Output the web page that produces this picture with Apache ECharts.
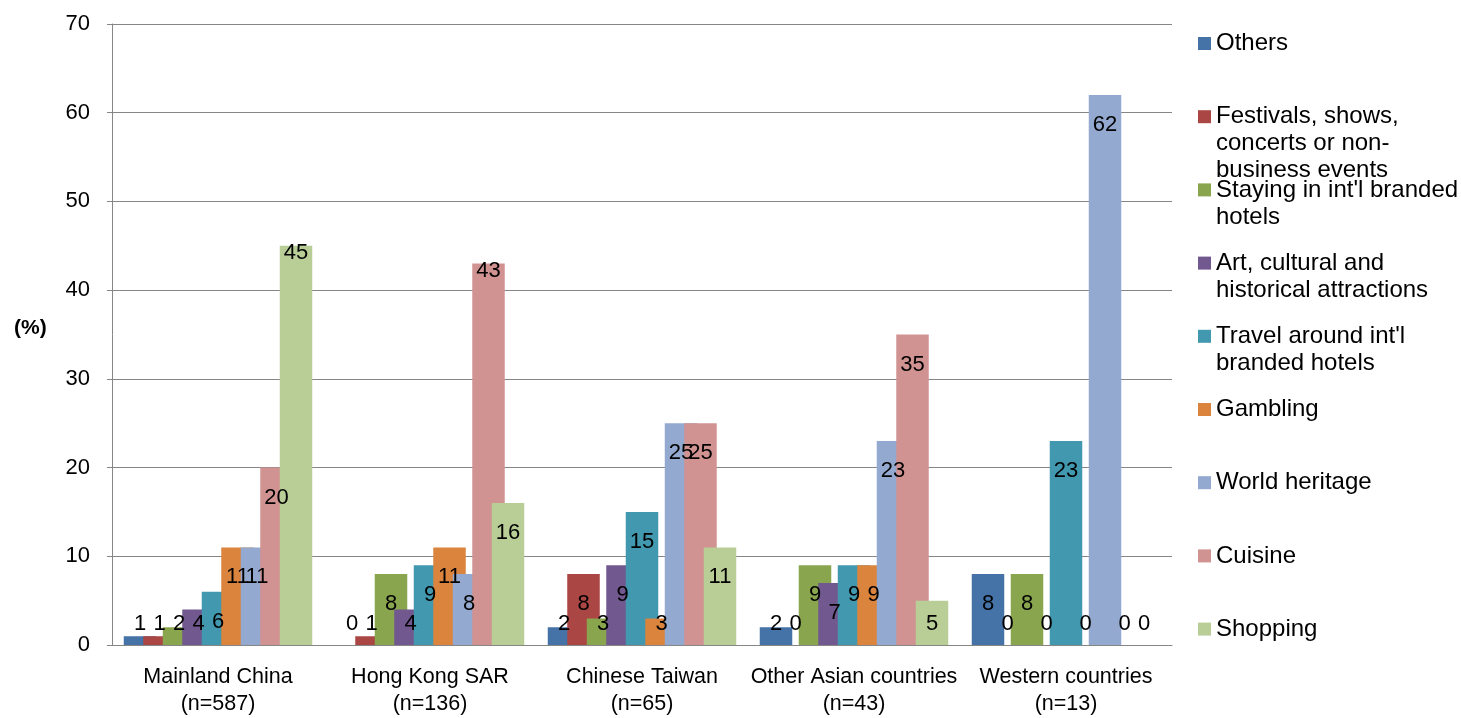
<!DOCTYPE html>
<html>
<head>
<meta charset="utf-8">
<script src="https://cdn.jsdelivr.net/npm/echarts@6/dist/echarts.min.js"></script>
<style>
  html, body { margin: 0; padding: 0; background: #fff; }
  #chart { width: 1461px; height: 718px; }
</style>
</head>
<body>
<div id="chart"></div>
<script>
// Markets (x-axis categories, two-line labels)
const categories = [
  'Mainland China\n(n=587)',
  'Hong Kong SAR\n(n=136)',
  'Chinese Taiwan\n(n=65)',
  'Other Asian countries\n(n=43)',
  'Western countries\n(n=13)'
];

// Activity names and their wrapped legend text
const seriesNames = [
  'Others',
  'Festivals, shows, concerts or non-business events',
  "Staying in int'l branded hotels",
  'Art, cultural and historical attractions',
  "Travel around int'l branded hotels",
  'Gambling',
  'World heritage',
  'Cuisine',
  'Shopping'
];
const legendLines = [
  ['Others'],
  ['Festivals, shows,', 'concerts or non-', 'business events'],
  ["Staying in int'l branded", 'hotels'],
  ['Art, cultural and', 'historical attractions'],
  ["Travel around int'l", 'branded hotels'],
  ['Gambling'],
  ['World heritage'],
  ['Cuisine'],
  ['Shopping']
];

// Share of respondents (%), one array per activity, in market order
const others      = [1, 0, 2, 2, 8];
const festivals   = [1, 1, 8, 0, 0];
const staying     = [2, 8, 3, 9, 8];
const art         = [4, 4, 9, 7, 0];
const travel      = [6, 9, 15, 9, 23];
const gambling    = [11, 11, 3, 9, 0];
const heritage    = [11, 8, 25, 23, 62];
const cuisine     = [20, 43, 25, 35, 0];
const shopping    = [45, 16, 11, 5, 0];

const values = [others, festivals, staying, art, travel, gambling, heritage, cuisine, shopping];

// Y-axis ticks
const yMin = 0, yMax = 70, yStep = 10;

const colors = ['#4572A7', '#AA4643', '#89A54E', '#71588F', '#4198AF',
                '#DB843D', '#93A9CF', '#D19392', '#B9CD96'];

const FONT = '"Liberation Sans", Arial, Helvetica, sans-serif';

// Value labels that sit right at the end of their bar: [series, market]
const endLabels = [[8, 0], [7, 1]];

// Label placement per bar: a little below the top of the bar, or held
// just above the baseline when the bar is short.
function labelFor(v, s, c) {
  if (endLabels.some(p => p[0] === s && p[1] === c)) {
    return { position: 'insideTop', distance: -4 };
  }
  if (v < 6) return { position: 'insideBottom', distance: 10 };
  return { position: 'insideTop', distance: 19 };
}

const series = seriesNames.map((name, i) => ({
  name: name,
  type: 'bar',
  barWidth: 32.5,
  barGap: '-40%',
  itemStyle: { color: colors[i] },
  label: {
    show: true,
    color: '#000',
    fontFamily: FONT,
    fontSize: 22,
    lineHeight: 22,
    textBorderWidth: 0
  },
  data: values[i].map((v, c) => ({ value: v, label: labelFor(v, i, c) }))
}));

// One legend block per activity so each entry sits in an equal slot.
// Leading blank lines keep the first text line level with the colour key.
const legendSlot0 = 43.5, legendSlotStep = 73.2, legendLineH = 27;
const legends = seriesNames.map((name, i) => {
  const n = legendLines[i].length;
  const blanks = new Array(n - 1).fill('');
  return {
    data: [name],
    orient: 'vertical',
    left: 1198,
    top: legendSlot0 + i * legendSlotStep - legendLineH / 2 - legendLineH * (n - 1),
    padding: 0,
    itemWidth: 13,
    itemHeight: 13,
    icon: 'rect',
    selectedMode: false,
    formatter: () => blanks.concat(legendLines[i]).join('\n'),
    textStyle: {
      color: '#000',
      fontFamily: FONT,
      fontSize: 24,
      lineHeight: legendLineH
    }
  };
});

const chart = echarts.init(document.getElementById('chart'), null, { renderer: 'canvas' });
chart.setOption({
  backgroundColor: '#fff',
  animation: false,
  grid: { left: 112, right: 289, top: 24, bottom: 67, containLabel: false },
  legend: legends,
  xAxis: {
    type: 'category',
    data: categories,
    axisLine: { show: true, lineStyle: { color: '#868686', width: 1 } },
    axisTick: { show: false },
    axisLabel: {
      interval: 0,
      margin: 19,
      color: '#000',
      fontFamily: FONT,
      fontSize: 21.5,
      lineHeight: 27
    }
  },
  yAxis: {
    type: 'value',
    min: yMin,
    max: yMax,
    interval: yStep,
    axisLine: { show: true, lineStyle: { color: '#868686', width: 1 } },
    axisTick: { show: true, length: 5, lineStyle: { color: '#868686' } },
    splitLine: { show: true, lineStyle: { color: '#868686', width: 1 } },
    axisLabel: {
      margin: 22,
      color: '#000',
      fontFamily: FONT,
      fontSize: 22
    }
  },
  graphic: [{
    type: 'text',
    left: 14,
    top: 318,
    style: {
      text: '(%)',
      fill: '#000',
      font: 'bold 21px ' + FONT
    }
  }],
  series: series
});
</script>
</body>
</html>
